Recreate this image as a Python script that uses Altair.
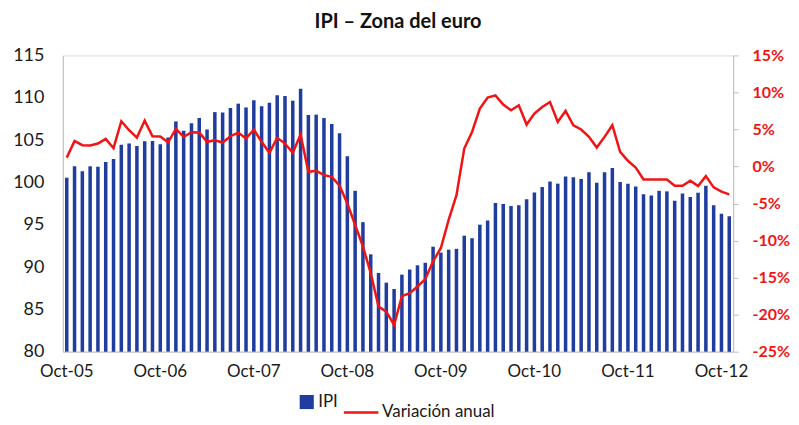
import altair as alt
import pandas as pd

# Month categories (Oct-05 .. Nov-12)
meses_abr = ["Ene", "Feb", "Mar", "Abr", "May", "Jun", "Jul", "Ago", "Sep", "Oct", "Nov", "Dic"]
meses = []
_y, _m = 2005, 9
for _k in range(86):
    meses.append(f"{meses_abr[_m]}-{_y % 100:02d}")
    _m += 1
    if _m == 12:
        _m = 0
        _y += 1

etiquetas_x = ["Oct-05", "Oct-06", "Oct-07", "Oct-08", "Oct-09", "Oct-10", "Oct-11", "Oct-12"]

ipi = [
    100.55, 101.9, 101.3, 101.9, 101.85, 102.4, 102.75, 104.45, 104.6, 104.3, 104.85,
    104.9, 104.5, 105.3, 107.2, 106.1, 107.0, 107.6, 106.25, 108.3, 108.25, 108.8,
    109.3, 108.85, 109.7, 109.0, 109.4, 110.3, 110.2, 109.65, 111.05, 107.95, 108.0,
    107.6, 106.9, 105.8, 103.1, 99.0, 95.3, 91.5, 89.3, 88.15, 87.4, 89.1,
    89.7, 90.2, 90.5, 92.4, 91.7, 92.05, 92.15, 93.7, 93.4, 95.0, 95.5,
    97.55, 97.45, 97.2, 97.3, 98.0, 98.8, 99.45, 100.1, 99.85, 100.7, 100.6,
    100.4, 101.2, 99.96, 101.2, 101.7, 100.04, 99.84, 99.5, 98.6, 98.46,
    99.0, 98.94, 97.83, 98.7, 98.27, 98.78, 99.6, 97.3, 96.3, 96.0,
]

variacion = [
    1.2, 3.46, 2.88, 2.83, 3.1, 3.73, 2.47, 6.11, 4.9, 3.91, 6.2,
    4.09, 4.05, 3.24, 5.08, 4.0, 4.63, 4.58, 3.33, 3.55, 3.24, 4.09,
    4.58, 3.78, 4.99, 3.33, 1.85, 3.87, 3.1, 1.85, 4.32, -0.71, -0.58,
    -1.16, -1.39, -2.6, -4.98, -7.9, -10.8, -14.4, -18.9, -19.6, -21.4, -17.5,
    -17.1, -16.2, -15.2, -12.8, -11.0, -7.2, -3.86, 2.43, 4.67, 7.82, 9.3,
    9.61, 8.36, 7.6, 8.27, 5.66, 7.14, 8.04, 8.71, 6.02, 7.5, 5.57,
    5.0, 4.0, 2.56, 4.0, 5.57, 1.98, 0.77, -0.13, -1.75, -1.75,
    -1.75, -1.75, -2.6, -2.6, -1.92, -2.64, -1.3, -2.82, -3.4, -3.77,
]

ticks_izq = [80, 85, 90, 95, 100, 105, 110, 115]
ticks_der = [-25, -20, -15, -10, -5, 0, 5, 10, 15]

df = pd.DataFrame({"mes": meses, "ipi": ipi, "var": variacion})

AZUL = "#1f3c9e"
ROJO = "#f01414"
GRIS = "#bfbfbf"
FONT = "Lato"

x_enc = alt.X(
    "mes:N",
    sort=None,
    scale=alt.Scale(paddingInner=0.55, paddingOuter=0.275),
    axis=alt.Axis(
        values=etiquetas_x, title=None, labelAngle=0, ticks=False,
        labelFont=FONT, labelFontSize=17, labelColor="#1a1a1a",
        labelPadding=12, domainColor=GRIS, domainWidth=1,
    ),
)

barras = (
    alt.Chart(df)
    .transform_calculate(s1="'IPI'")
    .mark_bar()
    .encode(
        x=x_enc,
        y=alt.Y(
            "ipi:Q",
            scale=alt.Scale(domain=[80, 115], nice=False, zero=False),
            axis=alt.Axis(
                values=ticks_izq, title=None, orient="left", ticks=False,
                labelFont=FONT, labelFontSize=18, labelColor="#1a1a1a",
                labelPadding=19, domainColor=GRIS, grid=False,
            ),
        ),
        y2=alt.datum(80),
        fill=alt.Fill(
            "s1:N",
            scale=alt.Scale(domain=["IPI"], range=[AZUL]),
            legend=alt.Legend(
                title=None, orient="none", legendX=236, legendY=339,
                symbolType="square", symbolSize=200, labelFont=FONT,
                labelFontSize=17, labelColor="#1a1a1a", labelOffset=3,
            ),
        ),
    )
)

linea = (
    alt.Chart(df)
    .transform_calculate(s2="'Variación anual'")
    .mark_line(strokeWidth=2.5)
    .encode(
        x=x_enc,
        y=alt.Y(
            "var:Q",
            scale=alt.Scale(domain=[-25, 15], nice=False, zero=False),
            axis=alt.Axis(
                values=ticks_der, title=None, orient="right", tickSize=5,
                tickColor=GRIS, labelFont=FONT, labelFontSize=16,
                labelFontWeight="bold", labelColor=ROJO, labelPadding=14,
                labelExpr="datum.value + '%'", domainColor=GRIS, grid=False,
            ),
        ),
        stroke=alt.Stroke(
            "s2:N",
            scale=alt.Scale(domain=["Variación anual"], range=[ROJO]),
            legend=alt.Legend(
                title=None, orient="none", legendX=280, legendY=339,
                symbolType="stroke", symbolSize=1200, symbolStrokeWidth=2.5,
                labelFont=FONT, labelFontSize=17, labelColor="#1a1a1a",
                labelOffset=2,
            ),
        ),
    )
)

chart = (
    alt.layer(barras, linea)
    .resolve_scale(y="independent")
    .properties(
        width=672,
        height=297,
        padding={"left": 55, "top": 47, "right": 58, "bottom": 74},
        autosize=alt.AutoSizeParams(type="none"),
        title=alt.Title(
            "IPI – Zona del euro", font=FONT, fontSize=20, fontWeight="bold",
            color="#111111", anchor="middle", offset=14,
        ),
    )
    .configure_view(stroke=None)
    .configure(background="white")
)

chart.save("out.html", embed_options={"renderer": "svg", "actions": False})
